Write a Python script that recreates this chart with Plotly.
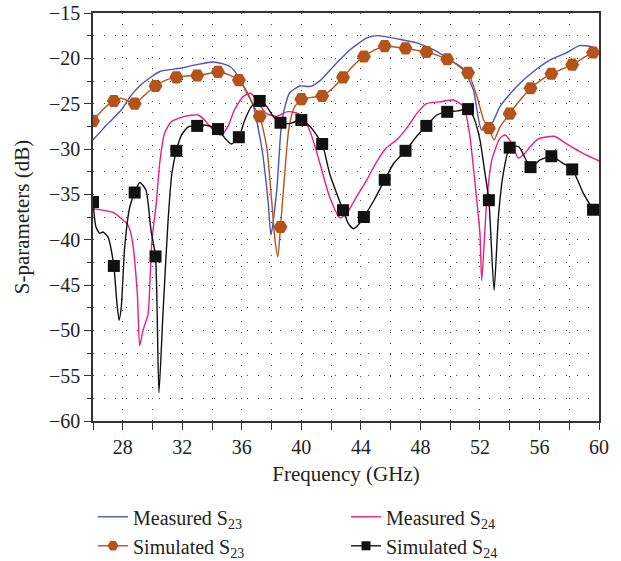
import plotly.graph_objects as go

# Frequencies (GHz) where the simulated curves carry a marker
marker_freq = [26.0, 27.4, 28.8, 30.2, 31.6, 33.0, 34.4, 35.8, 37.2, 38.6, 40.0, 41.4, 42.8,
               44.2, 45.6, 47.0, 48.4, 49.8, 51.2, 52.6, 54.0, 55.4, 56.8, 58.2, 59.6]

# Measured S23 (dB)
meas_s23_freq = [26.0, 27.0, 27.9, 28.6, 29.3, 30.5, 31.85, 32.97, 34.1, 35.2, 35.77, 36.3, 36.75,
                 37.36, 37.76, 37.96, 38.35, 38.7, 39.2, 39.9, 40.6, 41.3, 42.15, 43.27, 44.4,
                 45.07, 46.6, 47.75, 48.87, 50.0, 50.9, 51.56, 52.12, 52.8, 53.35, 54.47, 55.6,
                 56.7, 57.8, 58.7, 59.6]
meas_s23 = [-29.0, -27.2, -25.7, -24.0, -22.8, -21.45, -21.1, -20.7, -20.4, -20.9, -22.0, -23.7, -25.1,
            -30.1, -35.7, -39.5, -34.5, -26.8, -23.85, -23.05, -23.1, -22.4, -20.9, -19.05, -17.75,
            -17.5, -17.9, -18.3, -19.05, -20.2, -21.3, -23.5, -27.9, -27.2, -25.3, -23.1, -21.45,
            -20.2, -19.4, -18.6, -18.75]

# Measured S24 (dB)
meas_s24_freq = [26.07, 27.34, 28.35, 28.64, 28.98, 29.14, 29.36, 29.7, 29.83, 29.96, 30.25, 30.48,
                 30.8, 31.26, 32.16, 33.06, 33.5, 34.18, 34.62, 35.07, 35.5, 36.1, 36.6, 37.0,
                 37.67, 38.35, 39.0, 39.6, 40.1, 40.7, 41.25, 41.9, 42.6, 43.05, 43.7, 44.4,
                 45.07, 45.7, 46.4, 47.08, 47.75, 48.4, 49.3, 50.2, 50.9, 51.3, 51.67, 52.0,
                 52.12, 52.46, 52.8, 53.35, 53.7, 54.14, 54.58, 55.0, 55.37, 55.9, 57.0, 57.8,
                 58.95, 60.0]
meas_s24 = [-36.6, -37.0, -38.4, -40.1, -46.0, -51.7, -50.0, -48.2, -44.5, -40.1, -36.0, -31.6,
            -28.3, -27.0, -26.4, -26.25, -26.8, -28.1, -28.45, -27.5, -25.7, -24.2, -23.85, -24.7,
            -26.1, -26.4, -25.9, -26.0, -26.4, -28.6, -31.6, -35.3, -37.6, -37.1, -35.3, -33.4,
            -31.4, -29.9, -29.0, -27.7, -26.1, -25.0, -24.8, -24.6, -25.3, -28.3, -33.8, -39.3,
            -44.5, -35.65, -31.2, -28.8, -28.45, -29.4, -31.0, -30.5, -29.75, -28.9, -28.6, -29.4,
            -30.5, -31.3]

# Simulated S23 (dB)
sim_s23_freq = [26.0, 26.7, 27.4, 27.9, 28.8, 29.5, 30.2, 30.9, 31.6, 32.3, 33.0, 33.7, 34.4, 35.1,
                35.8, 36.4, 36.8, 37.2, 37.67, 38.0, 38.23, 38.42, 38.6, 38.85, 39.15, 39.5, 40.0,
                40.7, 41.4, 42.1, 42.8, 43.5, 44.2, 44.9, 45.6, 46.3, 47.0, 47.7, 48.4, 49.1, 49.8,
                50.5, 51.2, 51.8, 52.25, 52.6, 52.95, 53.35, 54.0, 54.7, 55.4, 56.1, 56.8, 57.5,
                58.2, 58.9, 59.6]
sim_s23 = [-26.9, -25.6, -24.7, -24.4, -25.0, -24.0, -23.05, -22.4, -22.1, -21.95, -21.9, -21.7,
           -21.5, -21.8, -22.4, -23.85, -25.3, -26.4, -29.75, -35.6, -40.05, -41.9, -38.6, -33.4,
           -27.9, -25.5, -24.5, -24.3, -24.15, -23.3, -22.1, -20.8, -19.8, -19.1, -18.65, -18.75,
           -18.9, -19.1, -19.3, -19.65, -20.1, -20.7, -21.6, -24.2, -26.8, -27.7, -29.0, -27.55,
           -26.1, -24.6, -23.3, -22.4, -21.7, -21.2, -20.7, -20.0, -19.35]

# Simulated S24 (dB)
sim_s24_freq = [26.0, 26.2, 26.45, 26.67, 27.0, 27.4, 27.57, 27.75, 27.9, 28.13, 28.47, 28.8, 29.14,
                29.55, 29.9, 30.2, 30.43, 30.7, 31.04, 31.3, 31.6, 31.95, 32.4, 33.0, 33.5, 34.4,
                34.85, 35.3, 35.8, 36.2, 36.65, 37.2, 37.67, 38.1, 38.6, 39.2, 40.0, 40.6, 41.4,
                41.9, 42.8, 43.15, 43.5, 43.8, 44.2, 44.9, 45.6, 46.2, 47.0, 47.75, 48.4, 49.1,
                49.8, 50.5, 51.2, 51.56, 52.0, 52.34, 52.6, 52.95, 53.24, 53.57, 54.0, 54.6, 55.4,
                56.04, 56.8, 57.5, 58.2, 58.95, 59.6]
sim_s24 = [-35.85, -38.6, -39.3, -39.15, -39.7, -42.9, -46.3, -48.9, -47.4, -40.8, -36.4, -34.8,
           -33.7, -34.5, -39.0, -41.85, -56.9, -48.2, -38.0, -32.7, -30.2, -28.45, -27.55, -27.45,
           -27.35, -27.8, -28.8, -29.45, -28.7, -26.8, -25.3, -24.7, -25.3, -26.4, -27.1, -27.2,
           -26.8, -27.55, -29.45, -32.7, -36.75, -38.2, -38.8, -38.4, -37.5, -35.6, -33.4, -31.6,
           -30.2, -28.6, -27.45, -26.25, -25.9, -25.8, -25.6, -26.45, -29.0, -32.7, -35.65,
           -45.6, -37.5, -32.7, -29.85, -29.75, -32.0, -31.2, -30.8, -31.5, -32.25, -34.9, -36.7]

FONT = "Liberation Serif"
TEXT_COLOR = "#222222"
AXIS_COLOR = "#333333"
GRID_COLOR = "#444444"
BLUE, PINK, ORANGE, BLACK = "#4a55b5", "#e8207c", "#b5531b", "#111111"
LINE_W = 1.4


def marker_sizes(freqs, size):
    return [size if any(abs(f - m) < 1e-6 for m in marker_freq) else 0 for f in freqs]


def spline(color):
    return dict(color=color, width=LINE_W, shape="spline", smoothing=0.6)


fig = go.Figure()

fig.add_trace(go.Scatter(
    x=meas_s23_freq, y=meas_s23, mode="lines", name="Measured S<sub>23</sub>",
    legendrank=1, line=spline(BLUE)))

fig.add_trace(go.Scatter(
    x=meas_s24_freq, y=meas_s24, mode="lines", name="Measured S<sub>24</sub>",
    legendrank=2, line=spline(PINK)))

fig.add_trace(go.Scatter(
    x=sim_s23_freq, y=sim_s23, mode="lines+markers", showlegend=False,
    line=spline(ORANGE),
    marker=dict(symbol="hexagon2", color=ORANGE, opacity=1,
                size=marker_sizes(sim_s23_freq, 14), line=dict(width=0))))

fig.add_trace(go.Scatter(
    x=sim_s24_freq, y=sim_s24, mode="lines+markers", showlegend=False,
    line=spline(BLACK),
    marker=dict(symbol="square", color=BLACK, opacity=1,
                size=marker_sizes(sim_s24_freq, 12), line=dict(width=0))))

# legend keys for the simulated curves (line with one marker)
fig.add_trace(go.Scatter(
    x=[None], y=[None], mode="lines+markers", name="Simulated S<sub>23</sub>",
    legendrank=3, line=dict(color=ORANGE, width=LINE_W),
    marker=dict(symbol="hexagon2", color=ORANGE, size=11)))
fig.add_trace(go.Scatter(
    x=[None], y=[None], mode="lines+markers", name="Simulated S<sub>24</sub>",
    legendrank=4, line=dict(color=BLACK, width=LINE_W),
    marker=dict(symbol="square", color=BLACK, size=9)))

grid_minor = dict(ticks="outside", tickwidth=1.3, tickcolor=AXIS_COLOR, showgrid=True,
                  gridcolor=GRID_COLOR, gridwidth=1, griddash="1px,10px")

fig.update_xaxes(
    range=[26, 60], tick0=28, dtick=4, ticks="outside", ticklen=7, tickwidth=1.3,
    tickcolor=AXIS_COLOR, showline=True, linecolor=AXIS_COLOR, linewidth=1.5, mirror=True,
    zeroline=False, showgrid=True, gridcolor=GRID_COLOR, gridwidth=1, griddash="1px,10px",
    minor=dict(tick0=26, dtick=2, ticklen=7, **grid_minor),
    tickfont=dict(family=FONT, size=20, color=TEXT_COLOR),
    title=dict(text="Frequency (GHz)", font=dict(family=FONT, size=21, color=TEXT_COLOR),
               standoff=10),
)

fig.update_yaxes(
    range=[-60, -15], dtick=5, ticks="outside", ticklen=7, tickwidth=1.3, tickcolor=AXIS_COLOR,
    showline=True, linecolor=AXIS_COLOR, linewidth=1.5, mirror=True, zeroline=False,
    showgrid=True, gridcolor=GRID_COLOR, gridwidth=1, griddash="1px,10px",
    minor=dict(dtick=2.5, ticklen=4, **grid_minor),
    tickfont=dict(family=FONT, size=20, color=TEXT_COLOR),
    title=dict(text="S-parameters (dB)", font=dict(family=FONT, size=21, color=TEXT_COLOR),
               standoff=14),
)

fig.update_layout(
    width=621, height=561,
    margin=dict(l=93, r=22, t=13, b=140, autoexpand=False),
    paper_bgcolor="white", plot_bgcolor="white",
    showlegend=True,
    legend=dict(orientation="h", x=0, xanchor="left", y=-0.187, yanchor="top",
                entrywidth=0.5, entrywidthmode="fraction", itemsizing="trace",
                font=dict(family=FONT, size=20, color=TEXT_COLOR), bgcolor="rgba(0,0,0,0)"),
    hovermode=False,
)

fig.write_html("out.html", config={"displayModeBar": False})
